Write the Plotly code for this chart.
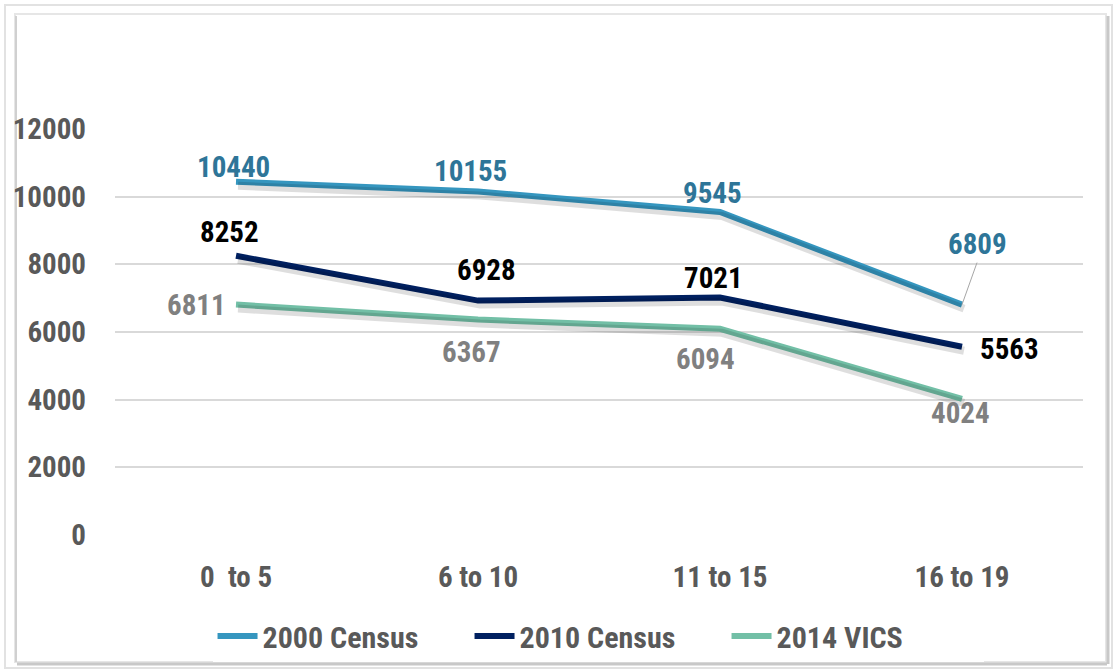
import plotly.graph_objects as go

# data
age_groups = ["0\u00a0 to 5", "6 to 10", "11 to 15", "16 to 19"]
census_2000 = [10440, 10155, 9545, 6809]
census_2010 = [8252, 6928, 7021, 5563]
vics_2014 = [6811, 6367, 6094, 4024]

FONT = "Liberation Sans Narrow, Arial Narrow, Roboto Condensed, Arial, sans-serif"

series = [
    ("2000 Census", census_2000, "#3596BF", "#2E7598"),
    ("2010 Census", census_2010, "#002060", "#000000"),
    ("2014 VICS", vics_2014, "#72BFA6", "#808080"),
]

# label offsets in pixels (xshift, yshift) per series / point
offsets = [
    [(-3, 15), (-8, 20), (-8, 19), (None, None)],
    [(-7, 24), (8, 31), (-7, 19), (47, -2)],
    [(-40, 0), (-7, -32), (-15, -30), (-2, -14)],
]

W, H = 1115, 672
L, R, T, B = 115, 32, 129, 137
pw, ph = W - L - R, H - T - B

fig = go.Figure()

# soft drop shadow: same series on an overlay axis pair shifted a few px
for name, vals, color, lab_color in series:
    fig.add_trace(go.Scatter(
        x=age_groups, y=vals, mode="lines", xaxis="x2", yaxis="y2",
        line=dict(color="rgba(0,0,0,0.13)", width=8),
        showlegend=False, hoverinfo="skip",
    ))

for name, vals, color, lab_color in series:
    fig.add_trace(go.Scatter(
        x=age_groups, y=vals, name=name, mode="lines",
        line=dict(color=color, width=6),
    ))

for (name, vals, color, lab_color), offs in zip(series, offsets):
    for cat, v, (dx, dy) in zip(age_groups, vals, offs):
        if dx is None:
            # label with leader line
            fig.add_annotation(
                x=cat, y=v, text=str(v), showarrow=True, arrowhead=0,
                arrowwidth=1, arrowcolor="#A6A6A6", ax=15, ay=-42,
                standoff=0, startstandoff=0, yanchor="bottom",
                font=dict(family=FONT, size=29, color=lab_color),
            )
        else:
            fig.add_annotation(
                x=cat, y=v, text=str(v), showarrow=False,
                xshift=dx, yshift=dy,
                font=dict(family=FONT, size=29, color=lab_color),
            )


# chart frame (double border with a faint shadow)
def px(x):
    return (x - L) / pw


def py(y):
    return (H - B - y) / ph


fig.add_shape(type="rect", xref="paper", yref="paper",
              x0=px(5), x1=px(1112), y0=py(5), y1=py(668),
              line=dict(color="#E2E2E2", width=2), layer="below")
fig.add_shape(type="rect", xref="paper", yref="paper",
              x0=px(15), x1=px(1106), y0=py(14), y1=py(662),
              line=dict(color="#E6E6E6", width=2), layer="below")
fig.add_shape(type="line", xref="paper", yref="paper",
              x0=px(17), x1=px(1107), y0=py(664), y1=py(664),
              line=dict(color="#C8C8C8", width=3), layer="below")
fig.add_shape(type="line", xref="paper", yref="paper",
              x0=px(1108), x1=px(1108), y0=py(16), y1=py(664),
              line=dict(color="#C8C8C8", width=3), layer="below")
fig.add_shape(type="line", xref="paper", yref="paper",
              x0=px(16), x1=px(16), y0=py(16), y1=py(662),
              line=dict(color="#D0D0D0", width=2), layer="below")

# shadow offset: ~2px right, ~4px down
sx = 2 / (pw / 4)
sy = 4 * 12000 / ph

fig.update_layout(
    width=W, height=H,
    margin=dict(l=L, r=R, t=T, b=B, autoexpand=False),
    paper_bgcolor="white", plot_bgcolor="white",
    font=dict(family=FONT, size=29, color="#595959"),
    showlegend=True,
    legend=dict(
        orientation="h", x=0.499, xanchor="center", y=-0.249, yanchor="middle",
        font=dict(family=FONT, size=30, color="#595959"),
        itemwidth=40, entrywidth=202, entrywidthmode="pixels",
    ),
    xaxis=dict(
        type="category", range=[-0.5, 3.5], showgrid=False, zeroline=False,
        showline=False, ticks="", ticklabelstandoff=22, automargin=False,
        tickfont=dict(family=FONT, size=29, color="#595959", weight="bold"),
    ),
    yaxis=dict(
        range=[0, 12000], dtick=2000, tickformat="d", showgrid=True,
        gridcolor="#D9D9D9", gridwidth=1.5, zeroline=False, showline=False,
        ticks="", ticklabelstandoff=28, automargin=False,
        tickfont=dict(family=FONT, size=29, color="#595959", weight="bold"),
    ),
    xaxis2=dict(
        type="category", overlaying="x", range=[-0.5 - sx, 3.5 - sx],
        visible=False, categoryorder="array", categoryarray=age_groups,
    ),
    yaxis2=dict(
        overlaying="y", range=[sy, 12000 + sy], visible=False,
    ),
)
fig.update_annotations(font_weight="bold")
fig.update_layout(legend_font_weight="bold")

# drop the default page margin so the figure sits at the window corner
fig.write_html("out.html", config={"displayModeBar": False},
               post_script="document.body.style.margin='0';")
